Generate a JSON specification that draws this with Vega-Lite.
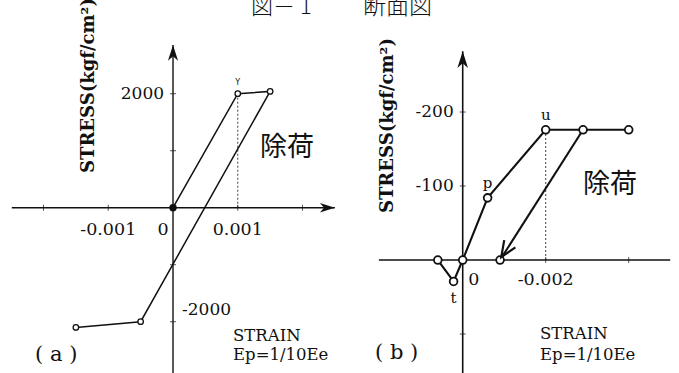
{
  "$schema": "https://vega.github.io/schema/vega-lite/v6.json",
  "padding": 0,
  "spacing": 0,
  "bounds": "flush",
  "background": "white",
  "config": {
    "view": {"stroke": null},
    "text": {"font": "DejaVu Serif", "color": "#111"}
  },
  "datasets": {
    "a_line": [
      {"i": 1, "strain": 0, "stress": 0},
      {"i": 2, "strain": 0.001, "stress": 2000},
      {"i": 3, "strain": 0.0015, "stress": 2040},
      {"i": 4, "strain": -0.0005, "stress": -2000},
      {"i": 5, "strain": -0.0015, "stress": -2100}
    ],
    "a_axes": [
      {"x1": -0.00249, "x2": 0.0025, "y1": 0, "y2": 0},
      {"x1": 0, "x2": 0, "y1": -2900, "y2": 2855}
    ],
    "a_ticks": [
      {"dir": "x", "strain": -0.002, "stress": 0},
      {"dir": "x", "strain": -0.001, "stress": 0},
      {"dir": "x", "strain": 0.001, "stress": 0},
      {"dir": "x", "strain": 0.002, "stress": 0},
      {"dir": "y", "strain": 0, "stress": 2000},
      {"dir": "y", "strain": 0, "stress": 1000},
      {"dir": "y", "strain": 0, "stress": -1000},
      {"dir": "y", "strain": 0, "stress": -2000}
    ],
    "a_arrows": [
      {"dir": "up", "strain": 0, "stress": 2855},
      {"dir": "right", "strain": 0.0025, "stress": 0}
    ],
    "a_dash": [{"strain": 0.001, "stress": 0, "stress2": 2000}],
    "a_labels": [
      {"kind": "yl", "strain": 0, "stress": 2000, "text": "2000"},
      {"kind": "yr", "strain": 0, "stress": -2000, "text": "-2000"},
      {"kind": "xn", "strain": -0.001, "stress": 0, "text": "-0.001"},
      {"kind": "xn", "strain": 0.001, "stress": 0, "text": "0.001"},
      {"kind": "zero", "strain": 0, "stress": 0, "text": "0"},
      {"kind": "pt", "strain": 0.001, "stress": 2000, "text": "Y"},
      {"kind": "kanji", "strain": 0.00176, "stress": 1047, "text": "除荷"},
      {"kind": "note", "strain": 0.000927, "stress": -2250, "text": "STRAIN"},
      {"kind": "note", "strain": 0.000927, "stress": -2590, "text": "Ep=1/10Ee"},
      {"kind": "panel", "strain": -0.00213, "stress": -2584, "text": "( a )"},
      {"kind": "ylab", "strain": -0.0013, "stress": 609, "text": "STRESS(kgf/cm²)"},
      {"kind": "title", "strain": 0.001205, "stress": 3522, "text": "図－ 1"}
    ],
    "b_line": [
      {"i": 1, "strain": 0.0006, "stress": 0},
      {"i": 2, "strain": 0.00022, "stress": 29},
      {"i": 3, "strain": 0, "stress": 0},
      {"i": 4, "strain": -0.0006, "stress": -84},
      {"i": 5, "strain": -0.002, "stress": -176},
      {"i": 6, "strain": -0.0029, "stress": -176},
      {"i": 7, "strain": -0.004, "stress": -176}
    ],
    "b_unload": [
      {"i": 1, "strain": -0.0029, "stress": -176},
      {"i": 2, "strain": -0.0009, "stress": 0}
    ],
    "b_axes": [
      {"x1": 0.00202, "x2": -0.005, "y1": 0, "y2": 0},
      {"x1": 0, "x2": 0, "y1": 152.7, "y2": -282}
    ],
    "b_ticks": [
      {"dir": "x", "strain": -0.002, "stress": 0},
      {"dir": "x", "strain": -0.004, "stress": 0},
      {"dir": "y", "strain": 0, "stress": -200},
      {"dir": "y", "strain": 0, "stress": -100},
      {"dir": "y", "strain": 0, "stress": 100}
    ],
    "b_arrows": [
      {"dir": "up", "strain": 0, "stress": -282},
      {"dir": "unload", "strain": -0.00093, "stress": -4}
    ],
    "b_dash": [{"strain": -0.002, "stress": 0, "stress2": -176}],
    "b_labels": [
      {"kind": "yl", "strain": 0, "stress": -200, "text": "-200"},
      {"kind": "yl", "strain": 0, "stress": -100, "text": "-100"},
      {"kind": "xn", "strain": -0.002, "stress": 0, "text": "-0.002"},
      {"kind": "zero", "strain": 0, "stress": 0, "text": "0"},
      {"kind": "up", "strain": -0.0006, "stress": -84, "text": "p"},
      {"kind": "up", "strain": -0.002, "stress": -176, "text": "u"},
      {"kind": "down", "strain": 0.00022, "stress": 29, "text": "t"},
      {"kind": "kanji", "strain": -0.00355, "stress": -101, "text": "除荷"},
      {"kind": "note", "strain": -0.001863, "stress": 100, "text": "STRAIN"},
      {"kind": "note", "strain": -0.001863, "stress": 128, "text": "Ep=1/10Ee"},
      {"kind": "panel", "strain": 0.002113, "stress": 126, "text": "( b )"},
      {"kind": "ylab", "strain": 0.001807, "stress": -63.5, "text": "STRESS(kgf/cm²)"},
      {"kind": "title", "strain": 0.0024, "stress": -342, "text": "断面図"}
    ]
  },
  "hconcat": [
    {
      "width": 340,
      "height": 373,
      "encoding": {
        "x": {"field": "strain", "type": "quantitative", "scale": {"domain": [-0.002672, 0.002579], "zero": false, "nice": false}, "axis": null},
        "y": {"field": "stress", "type": "quantitative", "scale": {"domain": [-2900, 3644], "zero": false, "nice": false}, "axis": null}
      },
      "layer": [
        {
          "data": {"name": "a_axes"},
          "mark": {"type": "rule", "color": "#111", "strokeWidth": 1.4},
          "encoding": {
            "x": {"field": "x1", "type": "quantitative"},
            "x2": {"field": "x2"},
            "y": {"field": "y1", "type": "quantitative"},
            "y2": {"field": "y2"}
          }
        },
        {
          "data": {"name": "a_ticks"},
          "transform": [{"filter": "datum.dir === 'x'"}],
          "mark": {"type": "tick", "orient": "vertical", "size": 6, "thickness": 1, "color": "#111"}
        },
        {
          "data": {"name": "a_ticks"},
          "transform": [{"filter": "datum.dir === 'y'"}],
          "mark": {"type": "tick", "orient": "horizontal", "size": 6, "thickness": 1, "color": "#111"}
        },
        {
          "data": {"name": "a_dash"},
          "mark": {"type": "rule", "color": "#111", "strokeWidth": 0.8, "strokeDash": [2, 2]},
          "encoding": {"y2": {"field": "stress2"}}
        },
        {
          "data": {"name": "a_line"},
          "mark": {"type": "line", "color": "#111", "strokeWidth": 1.5},
          "encoding": {"order": {"field": "i", "type": "quantitative"}}
        },
        {
          "data": {"name": "a_line"},
          "transform": [{"filter": "datum.i > 1"}],
          "mark": {"type": "point", "filled": false, "color": "#111", "fill": "white", "size": 30, "strokeWidth": 1.3, "opacity": 1}
        },
        {
          "data": {"name": "a_line"},
          "transform": [{"filter": "datum.i === 1"}],
          "mark": {"type": "point", "filled": true, "color": "#111", "size": 55, "opacity": 1}
        },
        {
          "data": {"name": "a_arrows"},
          "transform": [{"filter": "datum.dir === 'up'"}],
          "mark": {"type": "point", "shape": "M0,0L0.32,1L0,0.72L-0.32,1Z", "filled": true, "color": "#111", "size": 1000, "opacity": 1}
        },
        {
          "data": {"name": "a_arrows"},
          "transform": [{"filter": "datum.dir === 'right'"}],
          "mark": {"type": "point", "shape": "M0,0L0.32,1L0,0.72L-0.32,1Z", "filled": true, "color": "#111", "size": 900, "angle": 90, "opacity": 1}
        },
        {
          "data": {"name": "a_labels"},
          "transform": [{"filter": "datum.kind === 'yl'"}],
          "mark": {"type": "text", "font": "DejaVu Serif", "align": "right", "baseline": "middle", "dx": -9, "fontSize": 17},
          "encoding": {"text": {"field": "text"}}
        },
        {
          "data": {"name": "a_labels"},
          "transform": [{"filter": "datum.kind === 'yr'"}],
          "mark": {"type": "text", "font": "DejaVu Serif", "align": "left", "baseline": "middle", "dx": 9, "dy": -12, "fontSize": 17},
          "encoding": {"text": {"field": "text"}}
        },
        {
          "data": {"name": "a_labels"},
          "transform": [{"filter": "datum.kind === 'xn'"}],
          "mark": {"type": "text", "font": "DejaVu Serif", "align": "center", "baseline": "middle", "dy": 22, "fontSize": 17.5},
          "encoding": {"text": {"field": "text"}}
        },
        {
          "data": {"name": "a_labels"},
          "transform": [{"filter": "datum.kind === 'zero'"}],
          "mark": {"type": "text", "font": "DejaVu Serif", "align": "center", "baseline": "middle", "dx": -10, "dy": 22, "fontSize": 17.5},
          "encoding": {"text": {"field": "text"}}
        },
        {
          "data": {"name": "a_labels"},
          "transform": [{"filter": "datum.kind === 'pt'"}],
          "mark": {"type": "text", "font": "DejaVu Sans", "align": "center", "baseline": "middle", "dy": -11, "fontSize": 8},
          "encoding": {"text": {"field": "text"}}
        },
        {
          "data": {"name": "a_labels"},
          "transform": [{"filter": "datum.kind === 'kanji'"}],
          "mark": {"type": "text", "font": "Noto Sans CJK JP", "align": "center", "baseline": "middle", "fontSize": 27},
          "encoding": {"text": {"field": "text"}}
        },
        {
          "data": {"name": "a_labels"},
          "transform": [{"filter": "datum.kind === 'note'"}],
          "mark": {"type": "text", "font": "DejaVu Serif", "align": "left", "baseline": "middle", "fontSize": 16.5},
          "encoding": {"text": {"field": "text"}}
        },
        {
          "data": {"name": "a_labels"},
          "transform": [{"filter": "datum.kind === 'panel'"}],
          "mark": {"type": "text", "font": "DejaVu Serif", "align": "left", "baseline": "middle", "fontSize": 21},
          "encoding": {"text": {"field": "text"}}
        },
        {
          "data": {"name": "a_labels"},
          "transform": [{"filter": "datum.kind === 'ylab'"}],
          "mark": {"type": "text", "font": "DejaVu Serif", "align": "left", "baseline": "middle", "angle": 270, "fontSize": 18, "fontWeight": "bold", "clip": true},
          "encoding": {"text": {"field": "text"}}
        },
        {
          "data": {"name": "a_labels"},
          "transform": [{"filter": "datum.kind === 'title'"}],
          "mark": {"type": "text", "font": "Noto Sans CJK JP", "align": "left", "baseline": "middle", "fontSize": 22, "fontWeight": 300, "clip": true},
          "encoding": {"text": {"field": "text"}}
        }
      ]
    },
    {
      "width": 339,
      "height": 373,
      "encoding": {
        "x": {"field": "strain", "type": "quantitative", "scale": {"domain": [-0.005212, 0.002957], "reverse": true, "zero": false, "nice": false}, "axis": null},
        "y": {"field": "stress", "type": "quantitative", "scale": {"domain": [-351.4, 152.7], "reverse": true, "zero": false, "nice": false}, "axis": null}
      },
      "layer": [
        {
          "data": {"name": "b_axes"},
          "mark": {"type": "rule", "color": "#111", "strokeWidth": 1.6},
          "encoding": {
            "x": {"field": "x1", "type": "quantitative"},
            "x2": {"field": "x2"},
            "y": {"field": "y1", "type": "quantitative"},
            "y2": {"field": "y2"}
          }
        },
        {
          "data": {"name": "b_ticks"},
          "transform": [{"filter": "datum.dir === 'x'"}],
          "mark": {"type": "tick", "orient": "vertical", "size": 6, "thickness": 1, "color": "#111"}
        },
        {
          "data": {"name": "b_ticks"},
          "transform": [{"filter": "datum.dir === 'y'"}],
          "mark": {"type": "tick", "orient": "horizontal", "size": 6, "thickness": 1, "color": "#111"}
        },
        {
          "data": {"name": "b_dash"},
          "mark": {"type": "rule", "color": "#111", "strokeWidth": 0.8, "strokeDash": [2, 2]},
          "encoding": {"y2": {"field": "stress2"}}
        },
        {
          "data": {"name": "b_line"},
          "mark": {"type": "line", "color": "#111", "strokeWidth": 2.1},
          "encoding": {"order": {"field": "i", "type": "quantitative"}}
        },
        {
          "data": {"name": "b_unload"},
          "mark": {"type": "line", "color": "#111", "strokeWidth": 2.1},
          "encoding": {"order": {"field": "i", "type": "quantitative"}}
        },
        {
          "data": {"name": "b_line"},
          "mark": {"type": "point", "filled": false, "color": "#111", "fill": "white", "size": 60, "strokeWidth": 1.8, "opacity": 1}
        },
        {
          "data": {"name": "b_unload"},
          "transform": [{"filter": "datum.i === 2"}],
          "mark": {"type": "point", "filled": false, "color": "#111", "fill": "white", "size": 60, "strokeWidth": 1.8, "opacity": 1}
        },
        {
          "data": {"name": "b_arrows"},
          "transform": [{"filter": "datum.dir === 'up'"}],
          "mark": {"type": "point", "shape": "M0,0L0.32,1L0,0.72L-0.32,1Z", "filled": true, "color": "#111", "size": 1100, "opacity": 1}
        },
        {
          "data": {"name": "b_arrows"},
          "transform": [{"filter": "datum.dir === 'unload'"}],
          "mark": {"type": "point", "shape": "M-0.42,1L0,0L0.42,1", "filled": false, "color": "#111", "size": 1000, "strokeWidth": 2.2, "angle": 212.6, "opacity": 1}
        },
        {
          "data": {"name": "b_labels"},
          "transform": [{"filter": "datum.kind === 'yl'"}],
          "mark": {"type": "text", "font": "DejaVu Serif", "align": "right", "baseline": "middle", "dx": -9, "fontSize": 17},
          "encoding": {"text": {"field": "text"}}
        },
        {
          "data": {"name": "b_labels"},
          "transform": [{"filter": "datum.kind === 'xn'"}],
          "mark": {"type": "text", "font": "DejaVu Serif", "align": "center", "baseline": "middle", "dy": 20, "fontSize": 17.5},
          "encoding": {"text": {"field": "text"}}
        },
        {
          "data": {"name": "b_labels"},
          "transform": [{"filter": "datum.kind === 'zero'"}],
          "mark": {"type": "text", "font": "DejaVu Serif", "align": "center", "baseline": "middle", "dx": 11, "dy": 20, "fontSize": 17.5},
          "encoding": {"text": {"field": "text"}}
        },
        {
          "data": {"name": "b_labels"},
          "transform": [{"filter": "datum.kind === 'up'"}],
          "mark": {"type": "text", "font": "DejaVu Serif", "align": "center", "baseline": "middle", "dy": -15, "fontSize": 15},
          "encoding": {"text": {"field": "text"}}
        },
        {
          "data": {"name": "b_labels"},
          "transform": [{"filter": "datum.kind === 'down'"}],
          "mark": {"type": "text", "font": "DejaVu Serif", "align": "center", "baseline": "middle", "dy": 17, "fontSize": 15},
          "encoding": {"text": {"field": "text"}}
        },
        {
          "data": {"name": "b_labels"},
          "transform": [{"filter": "datum.kind === 'kanji'"}],
          "mark": {"type": "text", "font": "Noto Sans CJK JP", "align": "center", "baseline": "middle", "fontSize": 27},
          "encoding": {"text": {"field": "text"}}
        },
        {
          "data": {"name": "b_labels"},
          "transform": [{"filter": "datum.kind === 'note'"}],
          "mark": {"type": "text", "font": "DejaVu Serif", "align": "left", "baseline": "middle", "fontSize": 16.5},
          "encoding": {"text": {"field": "text"}}
        },
        {
          "data": {"name": "b_labels"},
          "transform": [{"filter": "datum.kind === 'panel'"}],
          "mark": {"type": "text", "font": "DejaVu Serif", "align": "left", "baseline": "middle", "fontSize": 21},
          "encoding": {"text": {"field": "text"}}
        },
        {
          "data": {"name": "b_labels"},
          "transform": [{"filter": "datum.kind === 'ylab'"}],
          "mark": {"type": "text", "font": "DejaVu Serif", "align": "left", "baseline": "middle", "angle": 270, "fontSize": 18, "fontWeight": "bold", "clip": true},
          "encoding": {"text": {"field": "text"}}
        },
        {
          "data": {"name": "b_labels"},
          "transform": [{"filter": "datum.kind === 'title'"}],
          "mark": {"type": "text", "font": "Noto Sans CJK JP", "align": "left", "baseline": "middle", "fontSize": 23, "fontWeight": 300, "clip": true},
          "encoding": {"text": {"field": "text"}}
        }
      ]
    }
  ]
}
